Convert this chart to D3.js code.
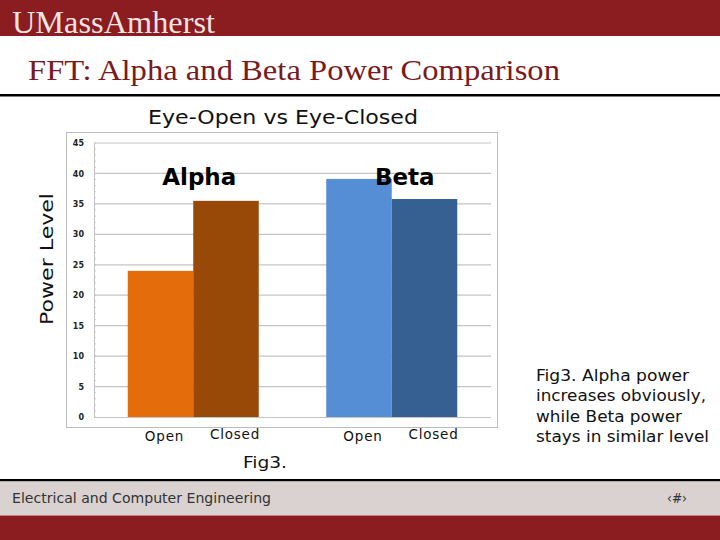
<!DOCTYPE html>
<html lang="en">
<head>
<meta charset="utf-8">
<title>FFT Alpha Beta</title>
<script src="https://d3js.org/d3.v7.js"></script>
<style>
  body { margin: 0; background: #fff; }
  svg { display: block; }
</style>
</head>
<body>
<div id="slide"></div>
<script>
// data
const groups = ["Alpha", "Beta"];
const states = ["Open", "Closed"];
const alphaValues = [24.0, 35.5];
const betaValues = [39.1, 35.8];
const yTicks = [0, 5, 10, 15, 20, 25, 30, 35, 40, 45];
const sideNote = ["Fig3. Alpha power", "increases obviously,", "while Beta power", "stays in similar level"];
const sideNoteWidths = [153, 170, 146, 173];

const colors = { Alpha: ["#e46c0a", "#984807"], Beta: ["#558ed5", "#376092"] };
const maroon = "#8b1c1f";

const rows = [];
groups.forEach(function (g, gi) {
  const vals = gi === 0 ? alphaValues : betaValues;
  states.forEach(function (s, si) {
    rows.push({ group: g, state: s, value: vals[si], color: colors[g][si] });
  });
});

const svg = d3.select("#slide").append("svg")
  .attr("width", 720).attr("height", 540);

// header
svg.append("rect").attr("x", 0).attr("y", 0).attr("width", 720).attr("height", 36).attr("fill", maroon);
svg.append("text").attr("x", 12).attr("y", 33)
  .attr("font-family", "Liberation Serif, serif").attr("font-size", 31)
  .attr("fill", "#f3e3e3").attr("textLength", 203).attr("lengthAdjust", "spacingAndGlyphs")
  .text("UMassAmherst");
svg.append("text").attr("x", 28).attr("y", 80)
  .attr("font-family", "Liberation Serif, serif").attr("font-size", 30)
  .attr("fill", "#7a1a1c").attr("textLength", 532).attr("lengthAdjust", "spacingAndGlyphs")
  .text("FFT: Alpha and Beta Power Comparison");
svg.append("rect").attr("x", 0).attr("y", 94).attr("width", 720).attr("height", 2.5).attr("fill", "#000");

// footer
svg.append("rect").attr("x", 0).attr("y", 479).attr("width", 720).attr("height", 2.5).attr("fill", "#000");
svg.append("rect").attr("x", 0).attr("y", 481.5).attr("width", 720).attr("height", 34).attr("fill", "#d9d2d0");
svg.append("rect").attr("x", 0).attr("y", 515.5).attr("width", 720).attr("height", 25).attr("fill", maroon);
svg.append("text").attr("x", 12).attr("y", 503)
  .attr("font-family", "DejaVu Sans Condensed, sans-serif").attr("font-size", 14.5)
  .attr("fill", "#333").attr("textLength", 259).attr("lengthAdjust", "spacingAndGlyphs")
  .text("Electrical and Computer Engineering");
svg.append("text").attr("x", 667).attr("y", 503)
  .attr("font-family", "DejaVu Sans Condensed, sans-serif").attr("font-size", 14)
  .attr("fill", "#333").attr("textLength", 20).attr("lengthAdjust", "spacingAndGlyphs")
  .text("‹#›");

// chart title + frame
svg.append("text").attr("x", 148).attr("y", 124)
  .attr("font-family", "DejaVu Sans, sans-serif").attr("font-size", 19.5)
  .attr("fill", "#111").attr("textLength", 270).attr("lengthAdjust", "spacingAndGlyphs")
  .text("Eye-Open vs Eye-Closed");
svg.append("rect").attr("x", 66.5).attr("y", 132.5).attr("width", 431).attr("height", 295)
  .attr("fill", "#fff").attr("stroke", "#bdbdbd");
svg.append("text")
  .attr("transform", "translate(53,325) rotate(-90)")
  .attr("font-family", "DejaVu Sans, sans-serif").attr("font-size", 17)
  .attr("fill", "#111").attr("textLength", 132).attr("lengthAdjust", "spacingAndGlyphs")
  .text("Power Level");

const plot = { left: 94, right: 491, top: 143, bottom: 417 };
const y = d3.scaleLinear().domain([0, 45]).range([plot.bottom, plot.top]);
const x0 = d3.scaleBand().domain(groups).range([plot.left, plot.right]).paddingInner(0.34).paddingOuter(0.17);
const x1 = d3.scaleBand().domain(states).range([0, x0.bandwidth()]);

const g = svg.append("g");

// gridlines
g.append("g").selectAll("line").data(yTicks.filter(d => d > 0)).join("line")
  .attr("x1", plot.left).attr("x2", plot.right)
  .attr("y1", d => y(d)).attr("y2", d => y(d))
  .attr("stroke", "#c4c4c4").attr("stroke-width", 1.2);

// left axis
const yAxis = g.append("g").attr("transform", `translate(${plot.left},0)`)
  .call(d3.axisLeft(y).tickValues(yTicks).tickSize(0).tickPadding(10));
yAxis.select(".domain").attr("stroke", "#c4c4c4");
yAxis.selectAll("text").attr("font-family", "DejaVu Sans, sans-serif")
  .attr("font-size", 8).attr("font-weight", "bold").attr("fill", "#222");
// minor ticks
g.append("g").selectAll("line").data(d3.range(0, 46)).join("line")
  .attr("x1", plot.left).attr("x2", plot.left + 2)
  .attr("y1", d => y(d)).attr("y2", d => y(d))
  .attr("stroke", "#c4c4c4").attr("stroke-width", 0.8);

// bars
g.append("g").selectAll("rect").data(rows).join("rect")
  .attr("x", d => x0(d.group) + x1(d.state))
  .attr("width", x1.bandwidth())
  .attr("y", d => y(d.value))
  .attr("height", d => y(0) - y(d.value))
  .attr("fill", d => d.color);

// bottom axis line
g.append("line").attr("x1", plot.left).attr("x2", plot.right)
  .attr("y1", plot.bottom + 0.5).attr("y2", plot.bottom + 0.5).attr("stroke", "#c4c4c4");

// category labels
g.append("g").selectAll("text").data(rows).join("text")
  .attr("x", d => x0(d.group) + x1(d.state) + x1.bandwidth() / 2 + (d.state === "Open" ? 4 : 9))
  .attr("y", d => d.state === "Open" ? 441 : 439)
  .attr("text-anchor", "middle")
  .attr("font-family", "DejaVu Sans, sans-serif").attr("font-size", 13.5)
  .attr("letter-spacing", 0.8)
  .attr("fill", "#111").text(d => d.state);

// group labels
g.append("g").selectAll("text").data(groups).join("text")
  .attr("x", (d, i) => x0(d) + x0.bandwidth() / 2 + (i === 0 ? 6 : 13))
  .attr("y", 185)
  .attr("text-anchor", "middle")
  .attr("font-family", "DejaVu Sans, sans-serif").attr("font-size", 23)
  .attr("font-weight", "bold").attr("fill", "#000").text(d => d);

// captions
svg.append("text").attr("x", 243).attr("y", 468)
  .attr("font-family", "DejaVu Sans Condensed, sans-serif").attr("font-size", 16.5)
  .attr("fill", "#111").attr("textLength", 44).attr("lengthAdjust", "spacingAndGlyphs")
  .text("Fig3.");
svg.append("g").selectAll("text").data(sideNote).join("text")
  .attr("x", 536).attr("y", (d, i) => 381 + i * 20.3)
  .attr("font-family", "DejaVu Sans, sans-serif").attr("font-size", 15.5)
  .attr("fill", "#111")
  .attr("textLength", (d, i) => sideNoteWidths[i]).attr("lengthAdjust", "spacingAndGlyphs")
  .text(d => d);
</script>
</body>
</html>
